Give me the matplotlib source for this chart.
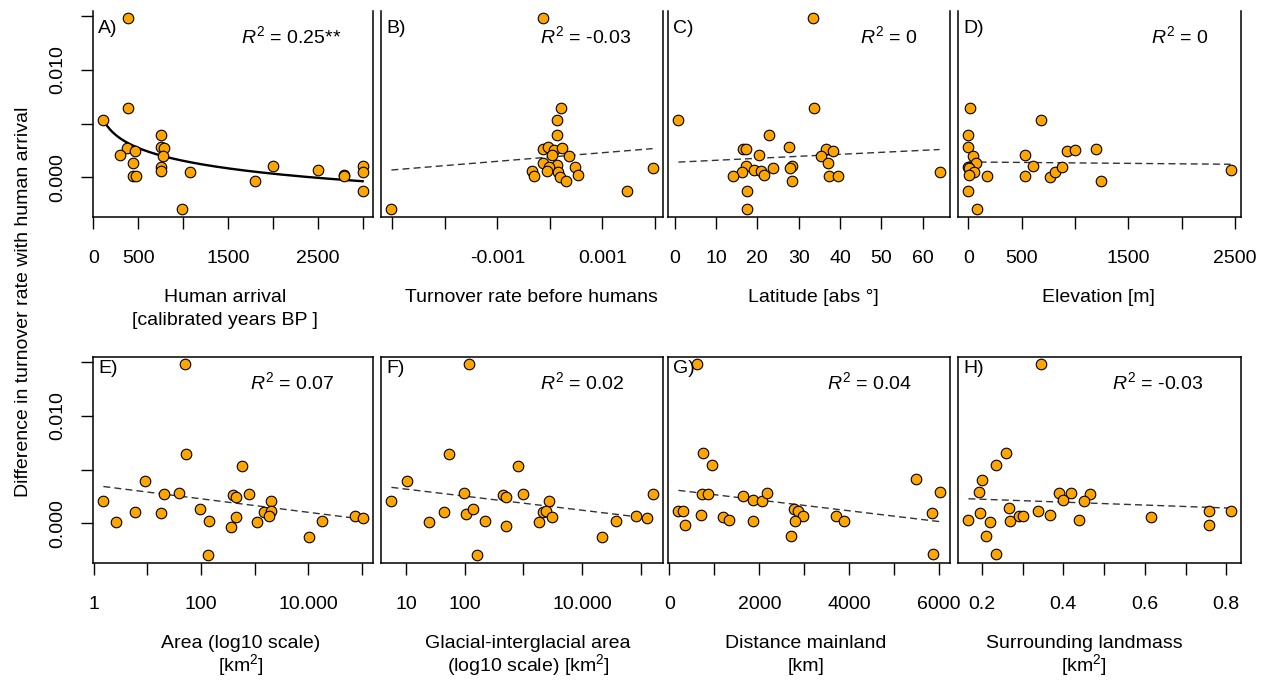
import numpy as np
import matplotlib
matplotlib.use("Agg")
import matplotlib.pyplot as plt

plt.rcParams["font.family"] = ["Liberation Sans", "DejaVu Sans"]
plt.rcParams["mathtext.fontset"] = "custom"
plt.rcParams["mathtext.rm"] = "Liberation Sans"
plt.rcParams["mathtext.it"] = "Liberation Sans:italic"

# difference in turnover rate, all y values in units of 1e-3
arrival_x = [380, 380, 111, 369, 299, 468, 442, 442, 472, 749, 749, 785, 778, 749, 749,
             992, 1077, 1799, 1995, 2500, 2795, 2795, 2998, 2998, 2998]
arrival_y = [14.81, 6.43, 5.34, 2.70, 2.08, 2.45, 1.30, 0.12, 0.16, 3.98, 2.86, 2.70, 2.02,
             0.93, 0.59, -2.98, 0.47, -0.31, 1.06, 0.68, 0.25, 0.12, 1.06, 0.53, -1.27]

# turnover before humans, x in units of 1e-3
before_x = [-0.134, 0.204, 0.140, 0.127, -0.140, -0.045, 0.076, 0.223, 0.045, 0.356, -0.140,
            0.140, -0.013, 0.483, -0.337, -0.299, -0.051, 0.159, 0.191, 0.312, 0.534, 1.469,
            1.953, -3.015]
before_y = [14.81, 6.49, 5.34, 3.98, 2.67, 2.83, 2.58, 2.73, 2.08, 2.02, 1.30, 1.12, 0.99,
            0.99, 0.56, 0.16, 0.59, 0.47, 0.06, -0.34, 0.25, -1.30, 0.90, -2.98]

lat_x = [33.5, 33.7, 0.9, 22.7, 27.6, 16.6, 17.2, 36.6, 38.4, 20.3, 35.5, 37.1, 17.3, 28.5,
         27.9, 23.9, 16.4, 19.1, 20.8, 21.6, 14.0, 37.4, 39.5, 28.4, 17.4, 17.4, 64.1]
lat_y = [14.81, 6.49, 5.34, 3.98, 2.83, 2.67, 2.67, 2.67, 2.45, 2.08, 2.02, 1.30, 1.06, 1.02,
         0.90, 0.90, 0.53, 0.65, 0.59, 0.25, 0.09, 0.09, 0.16, -0.31, -1.30, -2.98, 0.47]

elev_x = [16, 678, 0, 0, 47, 69, 0, 6, 54, 2, 173, 526, 602, 526, 763, 810, 873, 921, 1003,
          1201, 1248, 0, 79, 2459]
elev_y = [6.49, 5.34, 3.98, 2.83, 2.02, 1.30, 0.99, 0.90, 0.47, 0.25, 0.09, 2.08, 1.06, 0.16,
          0.06, 0.53, 0.96, 2.45, 2.58, 2.67, -0.31, -1.30, -2.98, 0.68]

area_x = [50, 52, 571, 9.0, 20, 39, 805, 389, 455, 1.5, 2064, 5.9, 17.6, 96, 1508, 2064, 1896,
          449, 141, 2.6, 1117, 367, 133, 10350, 18300, 76300, 104500]
area_y = [14.81, 6.46, 5.37, 3.98, 2.73, 2.86, 2.70, 2.61, 2.42, 2.05, 2.08, 1.06, 0.93, 1.30,
          1.02, 1.15, 0.65, 0.56, 0.19, 0.09, 0.09, -0.31, -2.98, -1.27, 0.25, 0.71, 0.50]

glac_x = [115.6, 53.2, 820, 10.1, 5.53, 97.5, 443, 505, 962, 2716, 43.1, 104, 135, 2143, 2449,
          3020, 24.5, 217, 512, 1807, 22340, 38800, 85300, 130000, 160700, 162.6]
glac_y = [14.81, 6.46, 5.37, 3.98, 2.05, 2.80, 2.61, 2.42, 2.70, 2.08, 1.06, 0.90, 1.30, 1.06,
          1.10, 0.62, 0.12, 0.19, -0.28, 0.09, -1.27, 0.25, 0.68, 0.47, 2.73, -2.98]

dist_x = [623, 742, 942, 5490, 6009, 720, 853, 1632, 1869, 2070, 2174, 200, 297, 705, 341,
          1202, 1335, 1869, 2760, 2856, 2967, 2782, 2708, 3702, 3880, 5831, 5868]
dist_y = [14.85, 6.55, 5.43, 4.10, 2.92, 2.70, 2.76, 2.55, 2.20, 2.11, 2.83, 1.12, 1.15, 0.78,
          -0.19, 0.59, 0.31, 0.25, 1.37, 1.12, 0.68, 0.19, -1.21, 0.71, 0.19, 0.99, -2.89]

land_x = [0.3446, 0.2592, 0.2353, 0.1992, 0.1918, 0.389, 0.420, 0.399, 0.4646, 0.4506, 0.2657,
          0.1942, 0.1671, 0.2205, 0.209, 0.2345, 0.2682, 0.2904, 0.302, 0.338, 0.3676, 0.4383,
          0.6158, 0.7587, 0.7587, 0.8105]
land_y = [14.85, 6.55, 5.43, 4.07, 2.92, 2.83, 2.83, 2.20, 2.70, 2.11, 1.40, 0.99, 0.31, 0.16,
          -1.21, -2.89, 0.19, 0.71, 0.71, 1.12, 0.78, 0.28, 0.56, 1.15, -0.19, 1.12]

# fitted models (intercept, slope), y in 1e-3
fit_arrival = (13.50, -1.732)      # y = a + b*ln(x)
fit_before = (1.89, 0.401)         # x in 1e-3
fit_lat = (1.40, 0.01855)
fit_elev = (1.43, -0.0000872)
fit_area = (3.54, -0.628)          # y = a + b*log10(x)
fit_glac = (3.836, -0.654)
fit_dist = (3.17, -0.000501)
fit_land = (2.513, -1.354)

r2_text = ["0.25**", "-0.03", "0", "0", "0.07", "0.02", "0.04", "-0.03"]
letters = ["A)", "B)", "C)", "D)", "E)", "F)", "G)", "H)"]

W, H = 1270, 681
cols = [(93, 373), (381, 663), (668, 950), (958, 1241)]
rows = [(11, 217), (357, 563)]

fig = plt.figure(figsize=(W / 100, H / 100), dpi=100)


def make_ax(col, row):
    l, r = cols[col]
    t, b = rows[row]
    return fig.add_axes([l / W, 1 - b / H, (r - l) / W, (b - t) / H])


def r_lim(vals, log=False):
    v = np.log10(vals) if log else np.asarray(vals, float)
    lo, hi = v.min(), v.max()
    pad = 0.04 * (hi - lo)
    lo, hi = lo - pad, hi + pad
    return (10 ** lo, 10 ** hi) if log else (lo, hi)


panels = [
    dict(x=np.array(arrival_x, float), y=arrival_y, kind="ln", fit=fit_arrival,
         ticks=np.arange(0, 3001, 500), labels=["0", "500", "", "1500", "", "2500", ""],
         xlab=["Human arrival", "[calibrated years BP ]"], lx=0.471),
    dict(x=np.array(before_x) * 1e-3, y=before_y, kind="lin", fit=(fit_before[0], fit_before[1]),
         ticks=np.arange(-0.003, 0.0021, 0.001), labels=["", "", "-0.001", "", "0.001", ""],
         xlab=["Turnover rate before humans"], lx=0.535),
    dict(x=np.array(lat_x), y=lat_y, kind="lin", fit=fit_lat,
         ticks=np.arange(0, 61, 10), labels=["0", "10", "20", "30", "40", "50", "60"],
         xlab=["Latitude [abs °]"], lx=0.514),
    dict(x=np.array(elev_x, float), y=elev_y, kind="lin", fit=fit_elev,
         ticks=np.arange(0, 2501, 500), labels=["0", "500", "", "1500", "", "2500"],
         xlab=["Elevation [m]"], lx=0.498),
    dict(x=np.array(area_x), y=area_y, kind="log10", fit=fit_area,
         ticks=10.0 ** np.arange(0, 6), labels=["1", "", "100", "", "10.000", ""],
         xlab=["Area (log10 scale)", "[km$^2$]"], lx=0.529),
    dict(x=np.array(glac_x), y=glac_y, kind="log10", fit=fit_glac,
         ticks=10.0 ** np.arange(1, 6), labels=["10", "100", "", "10.000", ""],
         xlab=["Glacial-interglacial area", "(log10 scale) [km$^2$]"], lx=0.521),
    dict(x=np.array(dist_x, float), y=dist_y, kind="lin", fit=fit_dist,
         ticks=np.arange(0, 6001, 1000), labels=["0", "", "2000", "", "4000", "", "6000"],
         xlab=["Distance mainland", "[km]"], lx=0.489),
    dict(x=np.array(land_x), y=land_y, kind="lin", fit=fit_land,
         ticks=np.arange(0.2, 0.81, 0.1), labels=["0.2", "", "0.4", "", "0.6", "", "0.8"],
         xlab=["Surrounding landmass", "[km$^2$]"], lx=0.445),
]

for i, p in enumerate(panels):
    row, col = divmod(i, 4)
    ax = make_ax(col, row)
    log = p["kind"] == "log10"
    if log:
        ax.set_xscale("log")
        ax.minorticks_off()
    x = p["x"]
    y = np.array(p["y"]) * 1e-3
    ax.scatter(x, y, s=58, c="#FFA500", edgecolors="black", linewidths=0.8, zorder=3)

    a, b = p["fit"]
    if p["kind"] == "ln":
        xs = np.linspace(x.min(), x.max(), 200)
        ax.plot(xs, (a + b * np.log(xs)) * 1e-3, color="black", lw=1.7, zorder=2)
    elif log:
        xs = np.logspace(np.log10(x.min()), np.log10(x.max()), 100)
        ax.plot(xs, (a + b * np.log10(xs)) * 1e-3, color="#333333", lw=1.0,
                dashes=(5, 3), zorder=2)
    else:
        xs = np.linspace(x.min(), x.max(), 100)
        if i == 1:
            fy = (a + b * xs * 1e3) * 1e-3
        else:
            fy = (a + b * xs) * 1e-3
        ax.plot(xs, fy, color="#333333", lw=1.0, dashes=(5, 3), zorder=2)

    ax.set_xlim(*r_lim(x, log))
    ax.set_ylim(-0.0037, 0.0155)
    ax.set_xticks(p["ticks"])
    ax.set_xticklabels(p["labels"])
    ax.tick_params(axis="x", length=8.6, width=1.0, pad=15, labelsize=14)

    if col == 0:
        ax.set_yticks([0, 0.005, 0.010, 0.015])
        ax.set_yticklabels(["0.000", "", "0.010", ""])
        ax.tick_params(axis="y", length=8.6, width=1.0, pad=11, labelsize=14, labelrotation=90)
        for lab in ax.get_yticklabels():
            lab.set_va("center")
    else:
        ax.tick_params(axis="y", left=False, labelleft=False)

    for sp in ax.spines.values():
        sp.set_linewidth(1.1)
    if row == 0:
        ax.spines["top"].set_visible(False)

    h = rows[row][1] - rows[row][0]
    w = cols[col][1] - cols[col][0]
    lab_y = (1 - 22 / h) if row == 0 else (1 - 16 / h)
    r2_y = 1 - 32 / h
    r2_x = (1 - 32 / w) if row == 0 else (1 - 38 / w)
    ax.text(5 / w, lab_y, letters[i], transform=ax.transAxes, fontsize=14,
            ha="left", va="baseline")
    ax.text(r2_x, r2_y, "$R^2$ = " + r2_text[i], transform=ax.transAxes, fontsize=14,
            ha="right", va="baseline")

    for k, line in enumerate(p["xlab"]):
        ax.text(p["lx"], -(85 + 23 * k) / h, line, transform=ax.transAxes, fontsize=14,
                ha="center", va="baseline")

fig.text(24 / W, 1 - 302 / H, "Difference in turnover rate with human arrival",
         rotation=90, ha="center", va="center", fontsize=14)

fig.savefig("out.png", dpi=100)
